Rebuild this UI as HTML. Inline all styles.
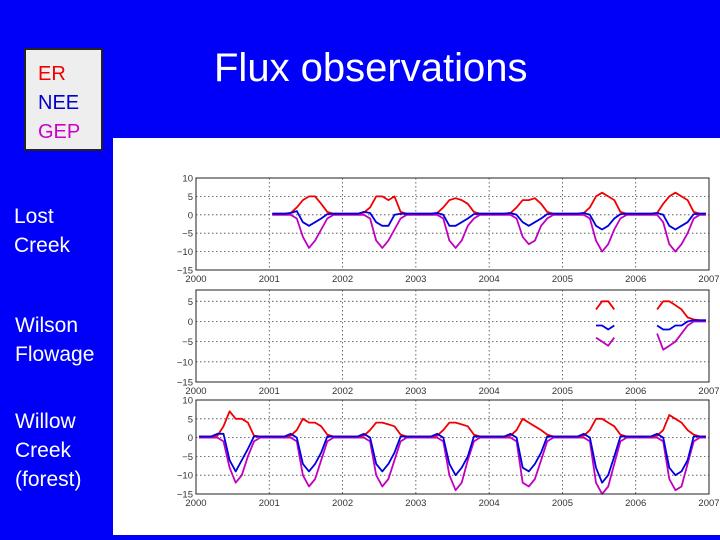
<!DOCTYPE html>
<html><head><meta charset="utf-8"><style>
body{margin:0;width:720px;height:540px;background:#0000f8;position:relative;overflow:hidden;font-family:"Liberation Sans",sans-serif}
.t{position:absolute;color:#fff}
</style></head><body>
<div style="position:absolute;left:24px;top:48px;width:79px;height:103px;background:#eee;border:2px solid #222;font-size:20px;line-height:29px;padding-left:12px;box-sizing:border-box;padding-top:10px">
<div style="color:#e00">ER</div>
<div style="color:#00c">NEE</div>
<div style="color:#c0c">GEP</div>
</div>
<div class="t" style="left:214px;top:46px;font-size:40px">Flux observations</div>
<div class="t" style="left:14px;top:202px;font-size:21px;line-height:29px">Lost<br>Creek</div>
<div class="t" style="left:15px;top:311px;font-size:21px;line-height:29px">Wilson<br>Flowage</div>
<div class="t" style="left:15px;top:407px;font-size:21px;line-height:29px">Willow<br>Creek<br>(forest)</div>
<svg id="c" width="607" height="397" style="position:absolute;left:113px;top:138px;background:#fff" viewBox="113 138 607 397"></svg>
<script>
const years=[2000,2001,2002,2003,2004,2005,2006,2007];
const lcStart=2001;
const lcER=[0.3,0.3,0.3,0.5,2,4,5,5,3,0.8,0.3,0.3, 0.3,0.3,0.3,0.6,2,5,5,4,5,0.8,0.3,0.3, 0.3,0.3,0.3,0.5,2,4,4.5,4,3,0.8,0.3,0.3, 0.3,0.3,0.3,0.5,2,4,4,4.5,3,0.8,0.3,0.3, 0.3,0.3,0.3,0.5,2,5,6,5,4,0.8,0.3,0.3, 0.3,0.3,0.3,0.5,3,5,6,5,4,0.8,0.3,0.3];
const lcNEE=[0.3,0.3,0.3,0.5,1,-2,-3,-2,-1,0.2,0.3,0.3, 0.3,0.3,0.3,0.8,0.5,-2,-3,-3,0,0.3,0.3,0.3, 0.3,0.3,0.3,0.5,0,-3,-3,-2,-1,0.2,0.3,0.3, 0.3,0.3,0.3,0.5,0,-2,-3,-2,-1,0.2,0.3,0.3, 0.3,0.3,0.3,0.5,0,-3,-4,-3,-1,0.2,0.3,0.3, 0.3,0.3,0.3,0.5,0,-3,-4,-3,-2,0.2,0.3,0.3];
const lcGEP=[0,0,0,0,-1,-6,-9,-7,-4,-1,0,0, 0,0,0,0,-1,-7,-9,-7,-4,-1,0,0, 0,0,0,0,-1,-7,-9,-7,-3,-1,0,0, 0,0,0,0,-1,-6,-8,-7,-3,-1,0,0, 0,0,0,0,-1,-7,-10,-8,-4,-1,0,0, 0,0,0,0,-2,-8,-10,-8,-5,-1,0,0];
const wfStart=2005;
const wfER=[null,null,null,null,null,3,5,5,3,null,null,null, null,null,null,3,5,5,4,3,1,0.5,0.3,0.3];
const wfNEE=[null,null,null,null,null,-1,-1,-2,-1,null,null,null, null,null,null,-1,-2,-2,-1,-1,0,0.3,0.3,0.3];
const wfGEP=[null,null,null,null,null,-4,-5,-6,-4,null,null,null, null,null,null,-3,-7,-6,-5,-3,-1,0,0,0];
const wcStart=2000;
const wcER=[0.3,0.3,0.3,0.5,3,7,5,5,4,0.5,0.3,0.3, 0.3,0.3,0.3,0.5,2,5,4,4,3,0.8,0.3,0.3, 0.3,0.3,0.3,0.5,2,4,4,3.5,3,0.8,0.3,0.3, 0.3,0.3,0.3,0.5,2,4,4,3.5,3,0.8,0.3,0.3, 0.3,0.3,0.3,0.5,2,5,4,3,2,0.8,0.3,0.3, 0.3,0.3,0.3,0.5,2,5,5,4,3,0.8,0.3,0.3, 0.3,0.3,0.3,0.5,2,6,5,4,2,0.8,0.3,0.3];
const wcNEE=[0.3,0.3,0.3,1,1,-6,-9,-6,-3,0.3,0.3,0.3, 0.3,0.3,0.3,1,0,-7,-9,-7,-4,0.3,0.3,0.3, 0.3,0.3,0.3,1,0,-7,-9,-7,-4,0.3,0.3,0.3, 0.3,0.3,0.3,1,0,-7,-10,-8,-5,0.3,0.3,0.3, 0.3,0.3,0.3,1,0,-8,-9,-7,-4,0.3,0.3,0.3, 0.3,0.3,0.3,1,0,-8,-12,-10,-5,0.3,0.3,0.3, 0.3,0.3,0.3,1,0,-8,-10,-9,-6,0.3,0.3,0.3];
const wcGEP=[0,0,0,0,-1,-8,-12,-10,-5,-1,0,0, 0,0,0,0,-1,-10,-13,-11,-6,-1,0,0, 0,0,0,0,-1,-10,-13,-11,-6,-1,0,0, 0,0,0,0,-1,-10,-14,-12,-6,-1,0,0, 0,0,0,0,-1,-12,-13,-11,-6,-1,0,0, 0,0,0,0,-1,-12,-15,-13,-7,-1,0,0, 0,0,0,0,-1,-11,-14,-13,-7,-1,0,0];
const yticks=[10,5,0,-5,-10,-15];
const panels=[
 {name:'lost-creek',top:178,bot:270,ymax:10,start:lcStart,er:lcER,nee:lcNEE,gep:lcGEP},
 {name:'wilson-flowage',top:290,bot:382,ymax:7.8,start:wfStart,er:wfER,nee:wfNEE,gep:wfGEP},
 {name:'willow-creek',top:400,bot:494,ymax:10,start:wcStart,er:wcER,nee:wcNEE,gep:wcGEP}];
const svg=document.getElementById('c'),NS='http://www.w3.org/2000/svg';
const X0=196,X1=709,xs=t=>X0+(t-2000)*(X1-X0)/7;
function mk(tag,a,parent){const e=document.createElementNS(NS,tag);for(const k in a)e.setAttribute(k,a[k]);(parent||svg).appendChild(e);return e;}
panels.forEach(p=>{
 const ys=v=>p.top+(p.ymax-v)*(p.bot-p.top)/(p.ymax+15);
 const g=mk('g',{});
 
 
 years.slice(1,-1).forEach(y=>{const l=mk('line',{x1:xs(y),x2:xs(y),y1:p.top,y2:p.bot,stroke:'#444','stroke-dasharray':'1.5,2.5','stroke-width':0.8},g);});
 yticks.forEach(v=>{if(v>p.ymax)return;const y=ys(v);
  if(v>-15&&v<p.ymax){const l=mk('line',{x1:X0,x2:X1,y1:y,y2:y,stroke:'#444','stroke-dasharray':'1.5,2.5','stroke-width':0.8},g);}
  const t=mk('text',{x:X0-3,y:y+3.5,'text-anchor':'end','font-size':9.5,fill:'#333','font-family':'Liberation Sans, sans-serif'},g);t.textContent=v<0?'\u2212'+(-v):v;
  });
 years.forEach(y=>{const t=mk('text',{x:xs(y),y:p.bot+12,'text-anchor':'middle','font-size':9.5,fill:'#333','font-family':'Liberation Sans, sans-serif'},g);t.textContent=y;
  });
 [['gep','#c000c0'],['er','#f00000'],['nee','#0000e0']].forEach(([k,c])=>{
  let d='',pen=false;p[k].forEach((v,i)=>{if(v===null){pen=false;return;}const t=p.start+(i+0.5)/12;d+=(pen?'L':'M')+xs(t).toFixed(1)+','+ys(v).toFixed(1);pen=true;});
  const path=mk('path',{d:d,fill:'none',stroke:c,'stroke-width':1.8,'stroke-linejoin':'round'},g);
  
  });
 const r=mk('rect',{x:X0,y:p.top,width:X1-X0,height:p.bot-p.top,fill:'none',stroke:'#222','stroke-width':1},g);
 
});
</script>
</body></html>
